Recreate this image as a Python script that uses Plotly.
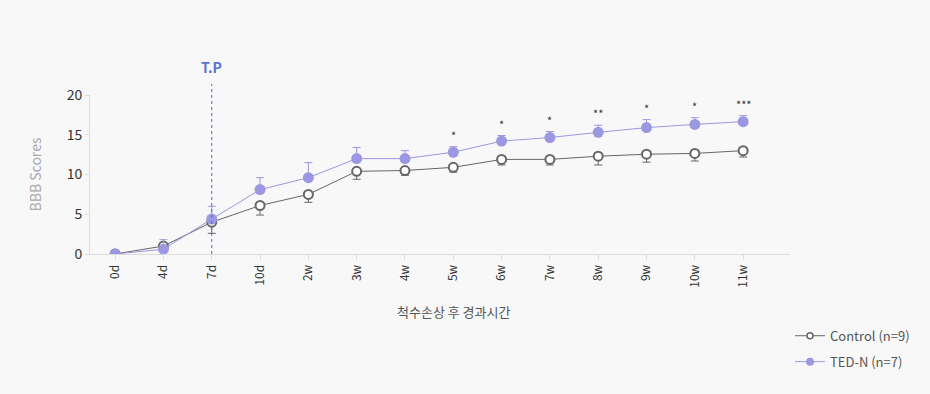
import plotly.graph_objects as go

categories = ["0d", "4d", "7d", "10d", "2w", "3w", "4w", "5w", "6w", "7w", "8w", "9w", "10w", "11w"]
control = [0, 1.0, 4.0, 6.1, 7.5, 10.4, 10.5, 10.9, 11.9, 11.9, 12.3, 12.55, 12.65, 13.0]
control_err = [0, 0.3, 1.4, 1.2, 1.0, 1.0, 0.6, 0.6, 0.7, 0.7, 1.1, 1.0, 0.95, 0.8]
ted = [0, 0.6, 4.4, 8.1, 9.6, 12.0, 12.0, 12.8, 14.2, 14.65, 15.3, 15.9, 16.3, 16.65]
ted_err = [0, 1.2, 1.6, 1.5, 1.9, 1.4, 1.0, 0.7, 0.7, 0.75, 0.9, 1.0, 0.85, 0.75]
stars = ["", "", "", "", "", "", "", "*", "*", "*", "**", "*", "*", "***"]
y_ticks = [0, 5, 10, 15, 20]

FONT = "Noto Sans CJK KR, Noto Sans, sans-serif"
ctrl_color = "#666666"
ted_color = "#9b97e0"

fig = go.Figure()
fig.add_trace(go.Scatter(
    x=categories, y=control, name="Control (n=9)", mode="lines+markers", showlegend=False,
    line=dict(color=ctrl_color, width=1),
    marker=dict(symbol="circle", size=9, color="#ffffff", line=dict(color=ctrl_color, width=2)),
    error_y=dict(type="data", symmetric=False, array=[0] * len(control), arrayminus=control_err,
                 color=ctrl_color, thickness=1, width=4),
))
fig.add_trace(go.Scatter(
    x=categories, y=ted, name="TED-N (n=7)", mode="lines+markers", showlegend=False,
    line=dict(color=ted_color, width=1),
    marker=dict(symbol="circle", size=11, color=ted_color),
    error_y=dict(type="data", symmetric=False, array=ted_err, arrayminus=[0] * len(ted),
                 color=ted_color, thickness=1, width=4),
))
# legend entries with small symbols
fig.add_trace(go.Scatter(
    x=[None], y=[None], name="Control (n=9)", mode="lines+markers", legendgroup="a",
    line=dict(color=ctrl_color, width=1),
    marker=dict(symbol="circle", size=6, color="#ffffff", line=dict(color=ctrl_color, width=1.5)),
))
fig.add_trace(go.Scatter(
    x=[None], y=[None], name="TED-N (n=7)", mode="lines+markers", legendgroup="b",
    line=dict(color=ted_color, width=1),
    marker=dict(symbol="circle", size=8, color=ted_color),
))

for c, v, e, s in zip(categories, ted, ted_err, stars):
    if s:
        fig.add_annotation(x=c, y=v + e, text=s, showarrow=False, yanchor="bottom", yshift=2,
                           font=dict(family=FONT, size=11, color="#333333"))

fig.add_shape(type="line", xref="x", yref="paper", x0="7d", x1="7d", y0=0, y1=1.07,
              line=dict(color="#5068d8", width=1, dash="3px,3px"))
fig.add_annotation(x="7d", y=1.1, xref="x", yref="paper", text="<b>T.P</b>", showarrow=False,
                   yanchor="bottom", font=dict(family=FONT, size=14, color="#5b73c9"))
fig.add_annotation(x=0.52, y=-0.29, xref="paper", yref="paper", text="척수손상 후 경과시간",
                   showarrow=False, yanchor="top", font=dict(family=FONT, size=13, color="#555555"))

fig.update_layout(
    width=930, height=394,
    margin=dict(l=90, r=140, t=95, b=140),
    paper_bgcolor="#f8f8f8", plot_bgcolor="#f8f8f8",
    font=dict(family=FONT, color="#333333"),
    showlegend=True,
    legend=dict(x=1.0, y=-0.42, xanchor="left", yanchor="top", bgcolor="rgba(0,0,0,0)",
                font=dict(family=FONT, size=13, color="#555555"), tracegroupgap=6, itemwidth=30),
    xaxis=dict(type="category", categoryorder="array", categoryarray=categories,
               range=[-0.52, 13.97], showgrid=False, zeroline=False,
               showline=True, linecolor="#dddddd", linewidth=1,
               ticks="outside", ticklen=5, tickcolor="#dddddd", tickangle=-90,
               tickfont=dict(family=FONT, size=12, color="#333333")),
    yaxis=dict(range=[0, 20], tickvals=y_ticks, showgrid=False, zeroline=False,
               showline=True, linecolor="#dddddd", linewidth=1,
               ticks="outside", ticklen=4, tickcolor="#dddddd",
               tickfont=dict(family=FONT, size=14, color="#333333"),
               title=dict(text="BBB Scores", standoff=21, font=dict(family=FONT, size=14, color="#aaaaaa"))),
)

fig.write_html("out.html", config={"displayModeBar": False},
               post_script="document.body.style.margin='0';document.body.style.background='#f8f8f8';")
